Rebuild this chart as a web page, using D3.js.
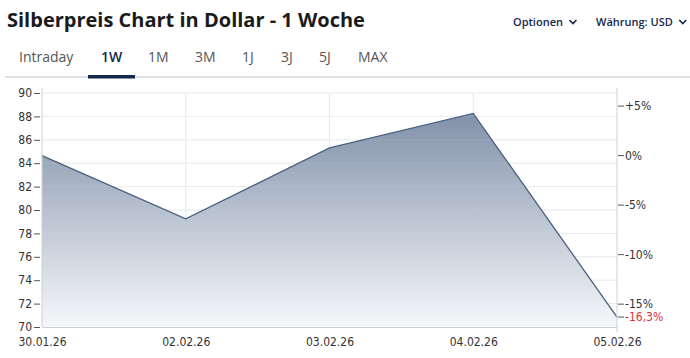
<!DOCTYPE html>
<html>
<head>
<meta charset="utf-8">
<script src="https://cdn.jsdelivr.net/npm/d3@7"></script>
<style>
  body { margin: 0; background: #fff; font-family: "Open Sans", sans-serif; }
  .axis text { font-family: "DejaVu Sans Condensed", "DejaVu Sans", sans-serif; font-size: 12px; fill: #333; }
  .axis path, .axis line { stroke: #ccd0d6; }
</style>
</head>
<body>
<div id="chart"></div>
<script>
// Data
var dates = ['30.01.26', '02.02.26', '03.02.26', '04.02.26', '05.02.26'];
var prices = [84.65, 79.25, 85.3, 88.25, 70.85];
var priceTicks = [70, 72, 74, 76, 78, 80, 82, 84, 86, 88, 90];
var pctTicks = [5, 0, -5, -10, -15];
var tabs = ['Intraday', '1W', '1M', '3M', '1J', '3J', '5J', 'MAX'];

(function(){
  var W = 690, H = 358;
  var mLeft = 42, mRight = 617, mTop = 93, mBottom = 327;
  var tabX = [19, 101, 148, 195, 242, 281, 319, 358];

  var svg = d3.select('#chart').append('svg')
    .attr('width', W).attr('height', H);

  // Header
  svg.append('text')
    .attr('x', 7).attr('y', 27)
    .attr('font-size', 20).attr('font-weight', 700)
    .attr('fill', '#1b1b1b')
    .text('Silberpreis Chart in Dollar - 1 Woche');

  [['Optionen', 513], ['Währung: USD', 596]].forEach(function(d){
    var t = svg.append('text')
      .attr('x', d[1]).attr('y', 26)
      .attr('font-size', 11).attr('fill', '#14284b')
      .attr('font-weight', 600)
      .text(d[0]);
    var w = t.node().getComputedTextLength();
    var cx = d[1] + w + 10;
    svg.append('path')
      .attr('d', 'M' + (cx - 3.5) + ',20 L' + cx + ',23.5 L' + (cx + 3.5) + ',20')
      .attr('fill', 'none').attr('stroke', '#14284b').attr('stroke-width', 1.6);
  });

  // Tabs
  svg.append('rect')
    .attr('x', 5).attr('y', 76).attr('width', W - 5).attr('height', 2)
    .attr('fill', '#dde1e6');
  svg.selectAll('.tab')
    .data(tabs)
    .enter()
      .append('text')
        .attr('class', 'tab')
        .attr('x', function(d, i){ return tabX[i]; })
        .attr('y', 62)
        .attr('font-size', 14)
        .attr('font-weight', function(d){ return d === '1W' ? 600 : 400; })
        .attr('fill', function(d){ return d === '1W' ? '#14284b' : '#555'; })
        .text(function(d){ return d; });
  svg.append('rect')
    .attr('x', 88).attr('y', 75).attr('width', 47).attr('height', 3.5)
    .attr('fill', '#14284b');

  // Scales
  var x = d3.scalePoint().domain(dates).range([mLeft, mRight]);
  var y = d3.scaleLinear().domain([70, 90]).range([mBottom, mTop]);
  var base = prices[0];
  var yPct = function(p){ return y(base * (1 + p / 100)); };

  // Grid
  svg.selectAll('.hgrid')
    .data(priceTicks.slice(1))
    .enter()
      .append('line')
        .attr('x1', mLeft).attr('x2', mRight)
        .attr('y1', function(d){ return y(d); })
        .attr('y2', function(d){ return y(d); })
        .attr('stroke', '#e6e8eb');
  svg.selectAll('.vgrid')
    .data(dates.slice(1, -1))
    .enter()
      .append('line')
        .attr('x1', function(d){ return x(d); })
        .attr('x2', function(d){ return x(d); })
        .attr('y1', mTop).attr('y2', mBottom)
        .attr('stroke', '#e6e8eb');

  // Area + line
  var grad = svg.append('defs').append('linearGradient')
    .attr('id', 'fill')
    .attr('gradientUnits', 'userSpaceOnUse')
    .attr('x1', 0).attr('x2', 0)
    .attr('y1', y(d3.max(prices))).attr('y2', mBottom);
  grad.append('stop').attr('offset', 0).attr('stop-color', '#7a8ba5').attr('stop-opacity', 0.95);
  grad.append('stop').attr('offset', 1).attr('stop-color', '#f4f6f9').attr('stop-opacity', 0.9);

  var pts = dates.map(function(d, i){ return [x(d), prices[i]]; });

  svg.append('path')
    .datum(pts)
    .attr('fill', 'url(#fill)')
    .attr('d', d3.area()
      .x(function(d){ return d[0]; })
      .y0(mBottom)
      .y1(function(d){ return y(d[1]); }));

  // faint grid visible through the area
  svg.selectAll('.hgrid2')
    .data(priceTicks.slice(1))
    .enter()
      .append('line')
        .attr('x1', mLeft).attr('x2', mRight)
        .attr('y1', function(d){ return y(d); })
        .attr('y2', function(d){ return y(d); })
        .attr('stroke', '#fff').attr('stroke-opacity', 0.12);

  svg.append('path')
    .datum(pts)
    .attr('fill', 'none')
    .attr('stroke', '#4a5f7e')
    .attr('stroke-width', 1.3)
    .attr('d', d3.line()
      .x(function(d){ return d[0]; })
      .y(function(d){ return y(d[1]); }));

  // Left axis
  var yAxis = svg.append('g')
    .attr('class', 'axis')
    .attr('transform', 'translate(' + mLeft + ',0)')
    .call(d3.axisLeft(y).tickValues(priceTicks).tickSize(0).tickPadding(10));
  yAxis.select('.domain').attr('d', 'M0,' + (mTop - 5) + 'V' + mBottom);
  yAxis.selectAll('.tick').append('line')
    .attr('x1', -8).attr('x2', -2)
    .style('stroke', '#555');
  yAxis.selectAll('.tick text').attr('dy', '0.3em');

  // Right axis
  var pAxis = svg.append('g')
    .attr('class', 'axis')
    .attr('transform', 'translate(' + mRight + ',0)');
  pAxis.append('line')
    .attr('y1', mTop - 5).attr('y2', mBottom + 5)
    .attr('stroke', '#ccd0d6');
  var last = (prices[prices.length - 1] / base - 1) * 100;
  var pctData = pctTicks.map(function(p){
    return { v: p, label: (p > 0 ? '+' : p === 0 ? '' : '-') + Math.abs(p) + '%', color: '#333' };
  });
  pctData.push({ v: last, label: last.toFixed(1).replace('.', ',') + '%', color: '#e0303a' });
  var pt = pAxis.selectAll('.ptick')
    .data(pctData)
    .enter()
      .append('g')
        .attr('transform', function(d){ return 'translate(0,' + yPct(d.v) + ')'; });
  pt.append('line').attr('x1', 1).attr('x2', 7).style('stroke', '#555');
  pt.append('text')
    .attr('x', 8).attr('dy', '0.35em')
    .style('fill', function(d){ return d.color; })
    .text(function(d){ return d.label; });

  // Bottom axis
  var xAxis = svg.append('g')
    .attr('class', 'axis')
    .attr('transform', 'translate(0,' + mBottom + ')')
    .call(d3.axisBottom(x).tickSize(0).tickPadding(10));
  xAxis.select('.domain').attr('stroke', '#ccd0d6');
})();
</script>
</body>
</html>
